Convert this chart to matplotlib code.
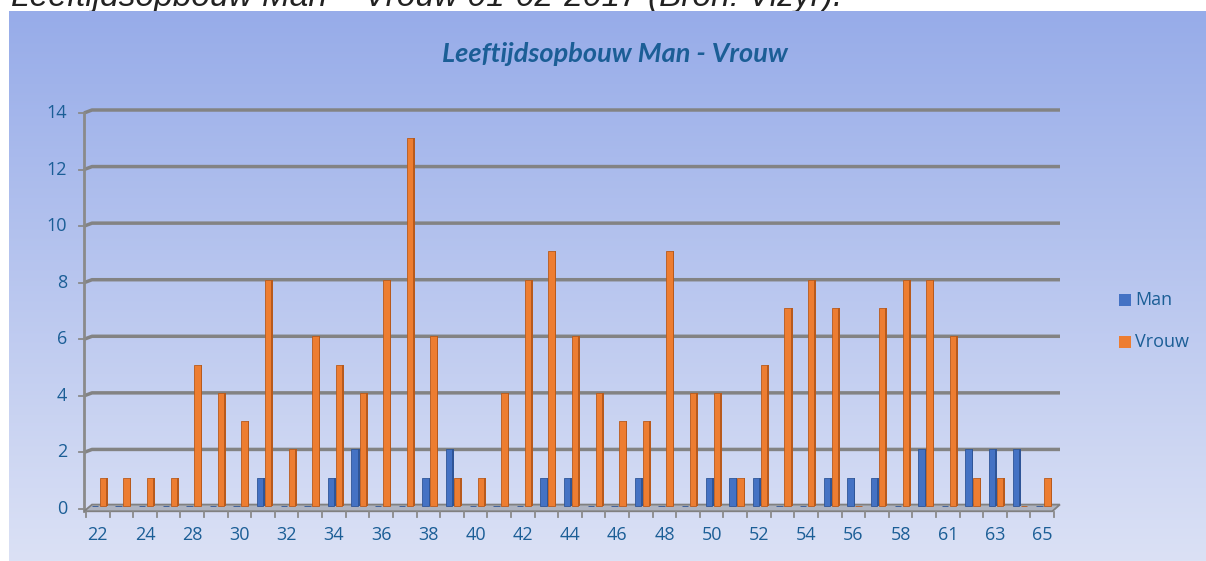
import matplotlib
matplotlib.use('Agg')
import matplotlib.pyplot as plt
import numpy as np
from matplotlib.patches import Polygon, Rectangle

# leeftijden (categorie-as), om de andere zichtbaar
ages = ['22', '23', '24', '25', '28', '29', '30', '31', '32', '33', '34', '35',
        '36', '37', '38', '39', '40', '41', '42', '43', '44', '45', '46', '47',
        '48', '49', '50', '51', '52', '53', '54', '55', '56', '57', '58', '59',
        '61', '62', '63', '64', '65']
man = [0, 0, 0, 0, 0, 0, 0, 1, 0, 0, 1, 2, 0, 0, 1, 2, 0, 0, 0, 1, 1,
       0, 0, 1, 0, 0, 1, 1, 1, 0, 0, 1, 1, 1, 0, 2, 0, 2, 2, 2, 0]
vrouw = [1, 1, 1, 1, 5, 4, 3, 8, 2, 6, 5, 4, 8, 13, 6, 1, 1, 4, 8, 9, 6,
         4, 3, 3, 9, 4, 4, 1, 5, 7, 8, 7, 0, 7, 8, 8, 6, 1, 1, 0, 1]
yticks = [0, 2, 4, 6, 8, 10, 12, 14]

W, H = 1206, 561
txt_col = '#1b5e96'
blue, blue_side = '#4472c4', '#2f5597'
orange, orange_side = '#ed7d31', '#b85a1c'
fnt = 'Open Sans'

fig = plt.figure(figsize=(W / 100, H / 100), dpi=100)

# bijschrift boven de grafiek (grotendeels buiten beeld, zoals in het origineel)
fig.text(11 / W, 1 - 6 / H, 'Leeftijdsopbouw Man \u2013 Vrouw 01-02-2017 (Bron: Vizyr).',
         family='Liberation Sans', style='italic', fontsize=24, color='#222222',
         va='baseline', ha='left', zorder=-5)

# achtergrond met verloop
bg = fig.add_axes([9 / W, 0, 1 - 9 / W, 550 / H])
top = np.array([151, 172, 233]) / 255
bot = np.array([219, 225, 245]) / 255
t = np.linspace(0, 1, 256)[:, None]
grad = (top[None, :] * (1 - t) + bot[None, :] * t)[:, None, :]
bg.imshow(grad, aspect='auto', extent=[0, 1, 0, 1])
bg.axis('off')

fig.text(615 / W, 1 - 62 / H, 'Leeftijdsopbouw Man - Vrouw', family='Lato',
         fontweight='bold', style='italic', fontsize=19.5, color=txt_col,
         ha='center', va='baseline')

ax = fig.add_axes([86 / W, 55 / H, 968 / W, 396 / H])
ax.set_xlim(-0.5, 40.5)
ax.set_ylim(0, 14)
ax.axis('off')

ux = 968 / 41      # px per categorie
uy = 396 / 14      # px per eenheid
xf = -0.5 - 2 / ux  # voorste y-as
dyf = 3 / uy        # verschuiving voorvlak

# rasterlijnen op de achterwand
for v in yticks[1:]:
    ax.plot([xf, -0.5 + 6 / ux, 40.5 + 6 / ux], [v - dyf, v, v], color='#838383',
            lw=2.5, clip_on=False, solid_capstyle='butt', zorder=1)

# voorste y-as met tickjes en labels
ax.plot([xf, xf], [-dyf - 0.08, 14 - dyf], color='#8a8a8a', lw=2, clip_on=False, zorder=2)
for v in yticks:
    ax.plot([xf - 5 / ux, xf], [v - dyf, v - dyf], color='#8a8a8a', lw=1.3, clip_on=False)
    ax.text(xf - 17 / ux, v - dyf, str(v), family=fnt, fontsize=13, color=txt_col,
            ha='right', va='center')

# vloer
floor = Polygon([(xf, -dyf - 0.08), (40.43, -dyf - 0.08), (40.75, 0.05), (xf + 8 / ux, 0.05)],
                closed=True, facecolor='#aeb3c0', edgecolor='#808080', lw=1.3,
                clip_on=False, zorder=2)
ax.add_patch(floor)

# x-as tickjes en labels
for k in range(len(ages) + 1):
    ax.plot([k - 0.5, k - 0.5], [-dyf - 0.1, -dyf - 0.3], color='#8a8a8a', lw=1.3,
            clip_on=False)
for i, a in enumerate(ages):
    if i % 2 == 0:
        ax.text(i, -1.03, a, family=fnt, fontsize=13, color=txt_col,
                ha='center', va='center')

pos = np.arange(len(ages))
ax.bar(pos - 0.12, man, width=0.27, color=blue, edgecolor=blue_side, lw=0.6, zorder=3, clip_on=False)
ax.bar(pos + 0.05, man, width=0.07, color=blue_side, lw=0, zorder=3, clip_on=False)
ax.bar(pos + 0.22, vrouw, width=0.27, color=orange, edgecolor=orange_side, lw=0.6, zorder=3, clip_on=False)
ax.bar(pos + 0.39, vrouw, width=0.07, color=orange_side, lw=0, zorder=3, clip_on=False)

# legenda
for name, col, yy in [('Man', blue, 300), ('Vrouw', orange, 342)]:
    fig.patches.append(Rectangle((1119 / W, 1 - (yy + 6) / H), 12 / W, 12 / H,
                                 transform=fig.transFigure, facecolor=col, edgecolor='none'))
    fig.text(1135 / W, 1 - yy / H, name, family=fnt, fontsize=13, color=txt_col,
             ha='left', va='center')

fig.savefig('out.png', dpi=100)
